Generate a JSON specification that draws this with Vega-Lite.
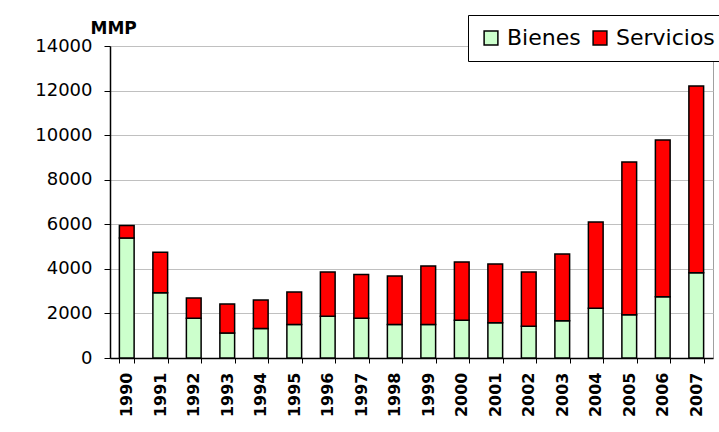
{
  "$schema": "https://vega.github.io/schema/vega-lite/v6.json",
  "autosize": "none",
  "width": 603,
  "height": 312,
  "padding": {"left": 110, "top": 46, "right": 6, "bottom": 74},
  "background": "white",
  "data": {
    "values": [
      {"anio": "1990", "tipo": "Bienes", "valor": 5380},
      {"anio": "1990", "tipo": "Servicios", "valor": 570},
      {"anio": "1991", "tipo": "Bienes", "valor": 2930},
      {"anio": "1991", "tipo": "Servicios", "valor": 1820},
      {"anio": "1992", "tipo": "Bienes", "valor": 1780},
      {"anio": "1992", "tipo": "Servicios", "valor": 910},
      {"anio": "1993", "tipo": "Bienes", "valor": 1120},
      {"anio": "1993", "tipo": "Servicios", "valor": 1300},
      {"anio": "1994", "tipo": "Bienes", "valor": 1320},
      {"anio": "1994", "tipo": "Servicios", "valor": 1280},
      {"anio": "1995", "tipo": "Bienes", "valor": 1500},
      {"anio": "1995", "tipo": "Servicios", "valor": 1460},
      {"anio": "1996", "tipo": "Bienes", "valor": 1870},
      {"anio": "1996", "tipo": "Servicios", "valor": 1990},
      {"anio": "1997", "tipo": "Bienes", "valor": 1780},
      {"anio": "1997", "tipo": "Servicios", "valor": 1970},
      {"anio": "1998", "tipo": "Bienes", "valor": 1500},
      {"anio": "1998", "tipo": "Servicios", "valor": 2180},
      {"anio": "1999", "tipo": "Bienes", "valor": 1500},
      {"anio": "1999", "tipo": "Servicios", "valor": 2630},
      {"anio": "2000", "tipo": "Bienes", "valor": 1690},
      {"anio": "2000", "tipo": "Servicios", "valor": 2620},
      {"anio": "2001", "tipo": "Bienes", "valor": 1580},
      {"anio": "2001", "tipo": "Servicios", "valor": 2640},
      {"anio": "2002", "tipo": "Bienes", "valor": 1420},
      {"anio": "2002", "tipo": "Servicios", "valor": 2440},
      {"anio": "2003", "tipo": "Bienes", "valor": 1670},
      {"anio": "2003", "tipo": "Servicios", "valor": 3000},
      {"anio": "2004", "tipo": "Bienes", "valor": 2230},
      {"anio": "2004", "tipo": "Servicios", "valor": 3870},
      {"anio": "2005", "tipo": "Bienes", "valor": 1940},
      {"anio": "2005", "tipo": "Servicios", "valor": 6860},
      {"anio": "2006", "tipo": "Bienes", "valor": 2750},
      {"anio": "2006", "tipo": "Servicios", "valor": 7030},
      {"anio": "2007", "tipo": "Bienes", "valor": 3830},
      {"anio": "2007", "tipo": "Servicios", "valor": 8380}
    ]
  },
  "mark": {"type": "bar", "stroke": "black", "strokeWidth": 1.5},
  "encoding": {
    "x": {
      "field": "anio",
      "type": "ordinal",
      "scale": {"paddingInner": 0.56, "paddingOuter": 0.28},
      "axis": {
        "title": null,
        "labelAngle": 270,
        "labelAlign": "right",
        "labelBaseline": "middle",
        "labelFont": "DejaVu Sans",
        "labelFontWeight": "bold",
        "labelFontSize": 16,
        "labelColor": "black",
        "labelPadding": 9,
        "tickBand": "extent",
        "tickSize": 5,
        "tickColor": "black",
        "domainColor": "black",
        "domainWidth": 1.5,
        "grid": false
      }
    },
    "y": {
      "field": "valor",
      "type": "quantitative",
      "aggregate": "sum",
      "stack": "zero",
      "scale": {"domain": [0, 14000], "nice": false},
      "axis": {
        "title": "MMP",
        "titleAngle": 0,
        "titleAlign": "left",
        "titleBaseline": "alphabetic",
        "titleX": -20,
        "titleY": -13,
        "titleFont": "DejaVu Sans",
        "titleFontSize": 17,
        "titleFontWeight": "bold",
        "titleColor": "black",
        "values": [0, 2000, 4000, 6000, 8000, 10000, 12000, 14000],
        "format": "d",
        "labelFont": "DejaVu Sans",
        "labelFontSize": 18,
        "labelColor": "black",
        "labelPadding": 12,
        "tickSize": 6,
        "tickColor": "black",
        "domainColor": "black",
        "domainWidth": 1.5,
        "grid": true,
        "gridColor": "#c0c0c0",
        "gridWidth": 1.2
      }
    },
    "order": {"field": "tipo", "sort": "ascending"},
    "color": {
      "field": "tipo",
      "type": "nominal",
      "scale": {"domain": ["Bienes", "Servicios"], "range": ["#CCFFCC", "#FF0000"]},
      "legend": {
        "title": null,
        "orient": "none",
        "direction": "horizontal",
        "legendX": 358,
        "legendY": -31,
        "symbolType": "square",
        "symbolSize": 190,
        "symbolStrokeColor": "black",
        "symbolStrokeWidth": 1.5,
        "symbolOpacity": 1,
        "labelFont": "DejaVu Sans",
        "labelFontSize": 22,
        "labelColor": "black",
        "labelOffset": 5,
        "columnPadding": 8,
        "padding": 12,
        "strokeColor": "black",
        "fillColor": "white"
      }
    }
  },
  "config": {
    "view": {"stroke": "#a0a0a0"}
  }
}
